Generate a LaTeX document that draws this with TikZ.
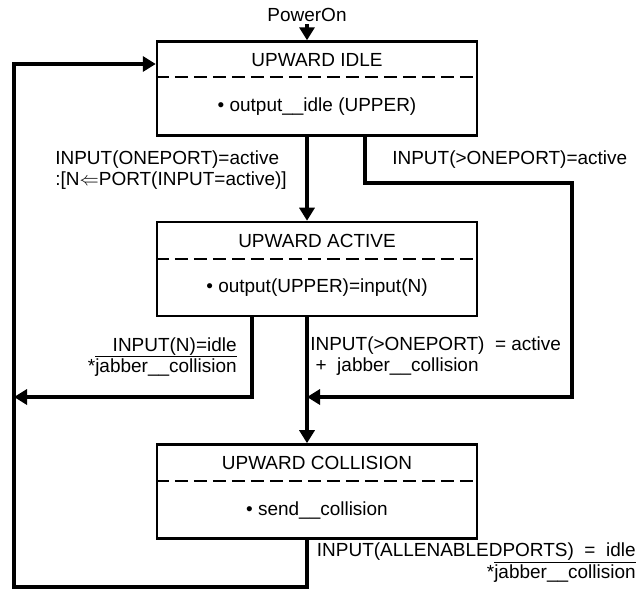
\documentclass[tikz,border=0pt]{standalone}
\usepackage{fontspec}
\setmainfont{Liberation Sans}
\usetikzlibrary{arrows.meta,positioning}
\newcommand\statefont{\fontsize{10.8}{12.4}\selectfont}
\tikzset{
  >={Triangle[length=2.6mm,width=3mm]},
  state/.style={
    draw, rectangle, line width=1.4pt, inner sep=0pt,
    minimum width=64mm, minimum height=18.8mm
  },
  ttl/.style={font=\statefont, inner sep=1pt},
  split/.style={line width=1.15pt, dash pattern=on 2.6mm off 1.2mm},
  conn/.style={->, line width=2.3pt},
  cond/.style={font=\statefont, inner sep=0pt, align=left},
}

\begin{document}
\begin{tikzpicture}[node distance=16.8mm]
  \useasboundingbox (0,0) rectangle (12.74,-11.8);

  \node[state] (idle) at (6.34,-1.77) {};
  \node[state, below=of idle] (active) {};
  \node[state, below=25.2mm of active] (coll) {};

  \node[ttl] (idleT) at ([yshift=-4mm]idle.north) {UPWARD IDLE};
  \node[ttl] (idleB) at ([yshift=-13.2mm]idle.north)
    {\textbullet\ output\_\_idle (UPPER)};
  \draw[split] ([yshift=-7.4mm]idle.north west) -- ([yshift=-7.4mm]idle.north east);

  \node[ttl] (activeT) at ([yshift=-4mm]active.north) {UPWARD ACTIVE};
  \node[ttl] (activeB) at ([yshift=-13.4mm]active.north)
    {\textbullet\ output(UPPER)=input(N)};
  \draw[split] ([yshift=-7.6mm]active.north west) -- ([yshift=-7.6mm]active.north east);

  \node[ttl] (collT) at ([yshift=-4mm]coll.north) {UPWARD COLLISION};
  \node[ttl] (collB) at ([yshift=-13.4mm]coll.north)
    {\textbullet\ send\_\_collision};
  \draw[split] ([yshift=-7.6mm]coll.north west) -- ([yshift=-7.6mm]coll.north east);

  \node[ttl] (pwr) at (6.14,-0.3) {PowerOn};

  \coordinate (xR) at (7.3,-3.66);
  \coordinate (xE) at (11.44,-7.94);
  \coordinate (xL) at (5.04,-7.94);
  \coordinate (xW) at (0.28,-11.74);
  \coordinate (xN) at (0.28,-1.28);

  \draw[conn] (pwr) -- (pwr |- idle.north);
  \draw[conn] (idle.south -| pwr) -- (active.north -| pwr);
  \draw[conn] (idle.south -| xR) -- (xR) -| (xE) -- (xE -| pwr);
  \draw[conn] (active.south -| xL) -- (xL) -- (xL -| xW);
  \draw[conn] (active.south -| pwr) -- (coll.north -| pwr);
  \draw[conn] (coll.south -| pwr) |- (xW) -- (xN) -- (xN -| idle.west);

  \node[cond, anchor=west] (lOne) at (1.1,-3.4)
    {INPUT(ONEPORT)=active\\:[N$\Leftarrow$PORT(INPUT=active)]};
  \node[cond, anchor=west] (lMany) at (7.84,-3.2) {INPUT(>ONEPORT)=active};
  \node[cond, anchor=east, align=right] (lIdleN) at (4.74,-7.14)
    {INPUT(N)=idle\\*$\overline{\mbox{jabber\_\_collision}}$};
  \node[cond, anchor=west] (lJab) at (6.2,-7.12)
    {INPUT(>ONEPORT)~~=~active\\~+~~jabber\_\_collision};
  \node[cond, anchor=east, align=right] (lAll) at (12.72,-11.25)
    {INPUT(ALLENABLEDPORTS)~~=~~idle\\*$\overline{\mbox{jabber\_\_collision}}$};
\end{tikzpicture}
\end{document}
